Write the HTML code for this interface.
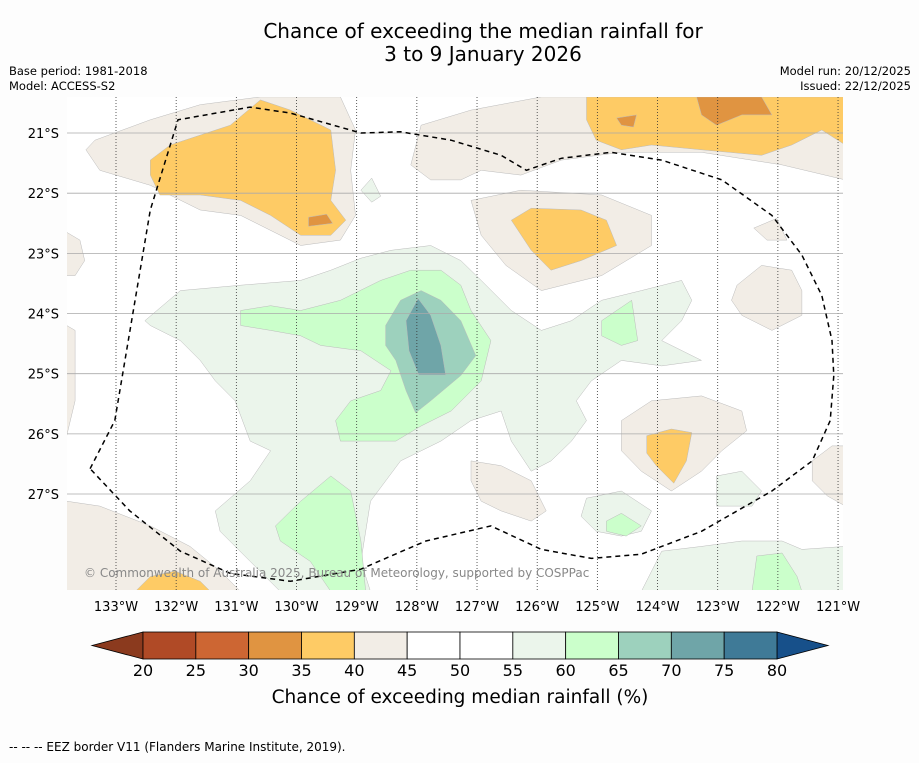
<!DOCTYPE html>
<html><head><meta charset="utf-8">
<style>
html,body{margin:0;padding:0;background:#fdfdfd;}
body{width:919px;height:758px;overflow:hidden;font-family:"Liberation Sans","DejaVu Sans",sans-serif;}
svg text{font-family:"DejaVu Sans","Liberation Sans",sans-serif;}
</style></head>
<body>
<svg id="chart" width="919" height="758" viewBox="0 0 919 758" xmlns="http://www.w3.org/2000/svg">
<rect x="0" y="0" width="919" height="758" fill="#fdfdfd"/>
<text x="483" y="38" font-size="20" text-anchor="middle" fill="#000">Chance of exceeding the median rainfall for</text>
<text x="483" y="61" font-size="20" text-anchor="middle" fill="#000">3 to 9 January 2026</text>
<text x="9" y="75" font-size="11.5" fill="#000">Base period: 1981-2018</text>
<text x="9" y="90" font-size="11.5" fill="#000">Model: ACCESS-S2</text>
<text x="911" y="75" font-size="11.5" text-anchor="end" fill="#000">Model run: 20/12/2025</text>
<text x="911" y="90" font-size="11.5" text-anchor="end" fill="#000">Issued: 22/12/2025</text>
<defs><clipPath id="mapclip"><rect x="67" y="97" width="776" height="493"/></clipPath></defs>
<rect x="67" y="97" width="776" height="493" fill="#ffffff"/>
<g id="fills" clip-path="url(#mapclip)"></g>
<g id="grid" clip-path="url(#mapclip)"></g>
<g id="eez" clip-path="url(#mapclip)"></g>
<text x="84" y="577" font-size="12" fill="#888">© Commonwealth of Australia 2025, Bureau of Meteorology, supported by COSPPac</text>
<g id="ticks"></g>
<g id="colorbar"></g>
<text x="460" y="703" font-size="18.5" text-anchor="middle" fill="#000">Chance of exceeding median rainfall (%)</text>
<text x="9" y="751" font-size="12" fill="#000">--  --  -- EEZ border V11 (Flanders Marine Institute, 2019).</text>
</svg>
<script>
const lonTicks=[-133,-132,-131,-130,-129,-128,-127,-126,-125,-124,-123,-122,-121];
const latTicks=[-21,-22,-23,-24,-25,-26,-27];
const levels=[20,25,30,35,40,45,50,55,60,65,70,75,80];
const levelColors=["#b04a26","#cd6633","#e09441","#fecb65","#f2ede6","#ffffff","#ffffff","#ebf5eb","#cbffcb","#9dd1bd","#6fa5a8","#3f7a97"];
const lowExtendColor="#8b3a1e";
const highExtendColor="#17508a";
const regionNames=["beige-tl","yellow-tl","orange-tl","beige-top","beige-mid","yellow-mid","yellow-tr","orange-tr","orange-tr-small","beige-right","beige-right-small","beige-br","yellow-br","beige-redge","beige-ledge1","beige-ledge2","beige-bl","yellow-bl","beige-bm","green-light-main","green-light-br1","green-light-br2","green-light-br3","green-mid-main","green-mid-bottom","green-mid-right","green-mid-br","green-mid-br2","green-light-small","teal-core","teal-dark-core"];
const regionBands=[40,35,30,40,40,35,35,30,30,40,40,40,35,40,40,40,40,35,40,55,55,55,55,60,60,60,60,60,55,65,70];
const regionVerts=[
[[-133.5,-21.28],[-133.35,-21.12],[-132.43,-20.78],[-131.6,-20.53],[-130.6,-20.4],[-129.27,-20.4],[-129.02,-20.95],[-129.1,-21.62],[-129.02,-22.37],[-129.27,-22.78],[-129.93,-22.87],[-130.93,-22.37],[-131.6,-22.28],[-132.43,-21.87],[-133.27,-21.62]],
[[-132.43,-21.45],[-132.1,-21.2],[-131.1,-20.87],[-130.6,-20.45],[-130.1,-20.62],[-129.43,-20.95],[-129.35,-21.62],[-129.43,-22.12],[-129.18,-22.45],[-129.43,-22.7],[-129.93,-22.7],[-130.43,-22.37],[-130.93,-22.12],[-131.6,-22.03],[-132.27,-22.03],[-132.43,-21.7]],
[[-129.8,-22.4],[-129.5,-22.35],[-129.4,-22.5],[-129.8,-22.55]],
[[-128.1,-21.53],[-127.93,-20.87],[-127.1,-20.62],[-125.93,-20.4],[-120.88,-20.4],[-120.88,-21.78],[-121.93,-21.53],[-123.27,-21.32],[-124.6,-21.32],[-125.6,-21.45],[-126.27,-21.7],[-126.93,-21.62],[-127.27,-21.78],[-127.77,-21.78]],
[[-127.1,-22.12],[-126.27,-21.95],[-124.93,-22.03],[-124.1,-22.37],[-124.1,-22.87],[-124.93,-23.37],[-125.93,-23.62],[-126.52,-23.2],[-126.93,-22.7]],
[[-126.43,-22.45],[-126.1,-22.25],[-125.27,-22.28],[-124.85,-22.45],[-124.68,-22.87],[-125.27,-23.12],[-125.77,-23.28],[-126.1,-22.95]],
[[-125.18,-20.4],[-120.88,-20.4],[-120.88,-21.2],[-121.27,-20.95],[-121.77,-21.2],[-122.27,-21.37],[-123.27,-21.28],[-124.1,-21.2],[-124.6,-21.28],[-125.02,-21.12],[-125.18,-20.78]],
[[-123.35,-20.4],[-122.27,-20.4],[-122.1,-20.7],[-122.6,-20.7],[-123.02,-20.87],[-123.27,-20.7]],
[[-124.68,-20.75],[-124.35,-20.7],[-124.4,-20.9],[-124.6,-20.87]],
[[-122.68,-23.53],[-122.27,-23.2],[-121.77,-23.28],[-121.6,-23.62],[-121.6,-24.03],[-122.1,-24.28],[-122.6,-24.03],[-122.77,-23.78]],
[[-122.4,-22.58],[-122.02,-22.42],[-121.85,-22.78],[-122.18,-22.78]],
[[-124.6,-25.78],[-124.1,-25.45],[-123.27,-25.37],[-122.6,-25.62],[-122.52,-25.95],[-122.93,-26.28],[-123.27,-26.62],[-123.77,-26.95],[-124.27,-26.62],[-124.6,-26.28]],
[[-124.18,-26.03],[-123.77,-25.92],[-123.43,-25.98],[-123.52,-26.45],[-123.73,-26.82],[-124.02,-26.53],[-124.18,-26.32]],
[[-121.43,-26.45],[-121.1,-26.2],[-120.88,-26.2],[-120.88,-27.2],[-121.18,-27.03],[-121.43,-26.78]],
[[-133.82,-22.65],[-133.6,-22.78],[-133.52,-23.12],[-133.68,-23.37],[-133.82,-23.37]],
[[-133.82,-24.2],[-133.68,-24.28],[-133.68,-25.45],[-133.82,-26.03]],
[[-133.82,-27.12],[-133.27,-27.2],[-132.43,-27.53],[-131.77,-27.87],[-131.27,-28.28],[-130.93,-28.62],[-133.82,-28.62]],
[[-132.68,-28.62],[-132.43,-28.37],[-132.02,-28.28],[-131.6,-28.45],[-131.43,-28.62]],
[[-127.1,-26.45],[-126.6,-26.53],[-126.1,-26.78],[-125.85,-27.28],[-126.1,-27.45],[-126.6,-27.28],[-126.93,-27.12],[-127.1,-26.78]],
[[-132.52,-24.12],[-131.93,-23.62],[-130.93,-23.53],[-129.93,-23.45],[-129.43,-23.28],[-128.93,-23.08],[-128.43,-22.95],[-127.77,-22.87],[-127.27,-23.12],[-126.93,-23.45],[-126.43,-23.95],[-125.93,-24.28],[-125.43,-24.12],[-124.93,-23.78],[-124.27,-23.62],[-123.6,-23.45],[-123.43,-23.78],[-123.6,-24.12],[-123.93,-24.45],[-123.27,-24.78],[-123.93,-24.87],[-124.6,-24.78],[-125.1,-25.12],[-125.35,-25.45],[-125.18,-25.78],[-125.43,-26.12],[-125.77,-26.45],[-126.1,-26.62],[-126.43,-26.12],[-126.6,-25.62],[-127.1,-25.78],[-127.6,-26.12],[-128.27,-26.45],[-128.77,-27.12],[-128.93,-28.12],[-128.77,-28.62],[-130.27,-28.62],[-130.77,-28.12],[-131.27,-27.62],[-131.35,-27.28],[-130.77,-26.78],[-130.43,-26.28],[-130.77,-26.12],[-131.02,-25.45],[-131.35,-25.12],[-131.6,-24.78],[-131.93,-24.45],[-132.43,-24.2]],
[[-125.18,-27.07],[-124.6,-26.95],[-124.1,-27.28],[-124.27,-27.62],[-124.6,-27.7],[-125.02,-27.62],[-125.27,-27.37]],
[[-123.02,-26.7],[-122.6,-26.62],[-122.27,-26.95],[-122.43,-27.2],[-123.02,-27.2]],
[[-124.27,-28.62],[-123.93,-27.95],[-123.27,-27.87],[-122.6,-27.78],[-121.93,-27.78],[-121.6,-27.92],[-120.88,-27.87],[-120.88,-28.62]],
[[-130.93,-23.95],[-130.43,-23.87],[-129.93,-23.95],[-129.27,-23.78],[-128.6,-23.45],[-128.1,-23.28],[-127.6,-23.28],[-127.27,-23.53],[-127.1,-23.95],[-126.77,-24.45],[-126.93,-25.12],[-127.43,-25.62],[-127.93,-25.87],[-128.35,-26.12],[-129.27,-26.12],[-129.35,-25.78],[-129.1,-25.45],[-128.6,-25.28],[-128.43,-24.95],[-128.93,-24.62],[-129.6,-24.53],[-129.93,-24.37],[-130.43,-24.28],[-130.93,-24.2]],
[[-130.35,-27.53],[-129.93,-27.12],[-129.43,-26.7],[-129.1,-26.95],[-128.93,-27.78],[-128.85,-28.62],[-129.43,-28.62],[-129.77,-28.12],[-130.27,-27.78]],
[[-124.93,-24.12],[-124.43,-23.78],[-124.33,-24.45],[-124.6,-24.53],[-124.93,-24.37]],
[[-124.85,-27.45],[-124.6,-27.32],[-124.27,-27.53],[-124.52,-27.7],[-124.85,-27.62]],
[[-122.43,-28.62],[-122.35,-28.03],[-121.93,-27.98],[-121.68,-28.37],[-121.6,-28.62]],
[[-128.93,-21.95],[-128.75,-21.75],[-128.6,-22.05],[-128.75,-22.15]],
[[-128.52,-24.2],[-128.27,-23.78],[-127.93,-23.62],[-127.6,-23.78],[-127.27,-24.12],[-127.02,-24.7],[-127.27,-25.03],[-127.77,-25.45],[-128.02,-25.65],[-128.18,-25.28],[-128.35,-24.78],[-128.52,-24.53]],
[[-128.18,-24.12],[-127.98,-23.75],[-127.77,-24.03],[-127.6,-24.53],[-127.52,-25.02],[-127.97,-25.02],[-128.13,-24.62]]
];
const eezVerts=[[-133.43,-26.58],[-133.02,-25.78],[-132.43,-22.28],[-131.97,-20.78],[-130.77,-20.57],[-130.1,-20.67],[-128.93,-21],[-128.27,-20.98],[-127.43,-21.12],[-126.6,-21.37],[-126.18,-21.62],[-125.6,-21.42],[-124.77,-21.32],[-123.93,-21.45],[-122.93,-21.78],[-122.1,-22.37],[-121.6,-23.03],[-121.27,-23.7],[-121.1,-24.45],[-121.07,-25.03],[-121.13,-25.78],[-121.43,-26.45],[-122.1,-26.95],[-123.27,-27.62],[-124.27,-28],[-125.1,-28.07],[-125.93,-27.92],[-126.77,-27.53],[-127.85,-27.78],[-128.43,-28.03],[-128.93,-28.25],[-130.1,-28.45],[-131.1,-28.32],[-131.93,-27.95],[-132.77,-27.28]];

const NS="http://www.w3.org/2000/svg";
const DEG=60.17;
function xScale(lon){return 116+(lon+133)*DEG;}
function yScale(lat){return 133+(-21-lat)*DEG;}
function cbX(v){return 143+(v-20)*(777-143)/60;}
function mk(tag,attrs,parent){const e=document.createElementNS(NS,tag);for(const k in attrs)e.setAttribute(k,attrs[k]);parent.appendChild(e);return e;}
function bandColor(b){return levelColors[levels.indexOf(b)];}
function ptsStr(v){return v.map(p=>xScale(p[0]).toFixed(1)+","+yScale(p[1]).toFixed(1)).join(" ");}

const fills=document.getElementById("fills");
regionVerts.forEach((v,i)=>{
  const p=mk("polygon",{points:ptsStr(v),fill:bandColor(regionBands[i]),stroke:"#bbbbbb","stroke-width":"0.5"},fills);
  
  
});

const grid=document.getElementById("grid");
lonTicks.forEach(l=>{
  const ln=mk("line",{x1:xScale(l),x2:xScale(l),y1:97,y2:590,stroke:"#333","stroke-width":"0.8","stroke-dasharray":"1,2"},grid);
  
  
});
latTicks.forEach(l=>{
  const ln=mk("line",{x1:67,x2:843,y1:yScale(l),y2:yScale(l),stroke:"#aaa","stroke-width":"0.8"},grid);
  
  
});

const eez=document.getElementById("eez");
const ez=mk("polygon",{points:ptsStr(eezVerts),fill:"none",stroke:"#000","stroke-width":"1.5","stroke-dasharray":"5,4"},eez);



const ticks=document.getElementById("ticks");
lonTicks.forEach(l=>{
  const t=mk("text",{x:xScale(l),y:611,"font-size":"13","text-anchor":"middle",fill:"#000"},ticks);
  t.textContent=Math.abs(l)+"°W";
  
  
});
latTicks.forEach(l=>{
  const t=mk("text",{x:59,y:yScale(l)+5,"font-size":"13","text-anchor":"end",fill:"#000"},ticks);
  t.textContent=Math.abs(l)+"°S";
  
  
});

const cb=document.getElementById("colorbar");
const cbTop=632,cbBot=659,cbMid=(cbTop+cbBot)/2;
const lt=mk("polygon",{points:`92,${cbMid} ${cbX(20)},${cbTop} ${cbX(20)},${cbBot}`,fill:lowExtendColor,stroke:"#000","stroke-width":"0.8"},cb);


const rt=mk("polygon",{points:`828,${cbMid} ${cbX(80)},${cbTop} ${cbX(80)},${cbBot}`,fill:highExtendColor,stroke:"#000","stroke-width":"0.8"},cb);


levelColors.forEach((c,i)=>{
  const r=mk("rect",{x:cbX(levels[i]),y:cbTop,width:cbX(levels[i+1])-cbX(levels[i]),height:cbBot-cbTop,fill:c,stroke:"#000","stroke-width":"0.8"},cb);
  
  
});
levels.forEach(v=>{
  const t=mk("text",{x:cbX(v),y:676,"font-size":"16","text-anchor":"middle",fill:"#000"},cb);
  t.textContent=v;
  
  
});
</script>
</body></html>
